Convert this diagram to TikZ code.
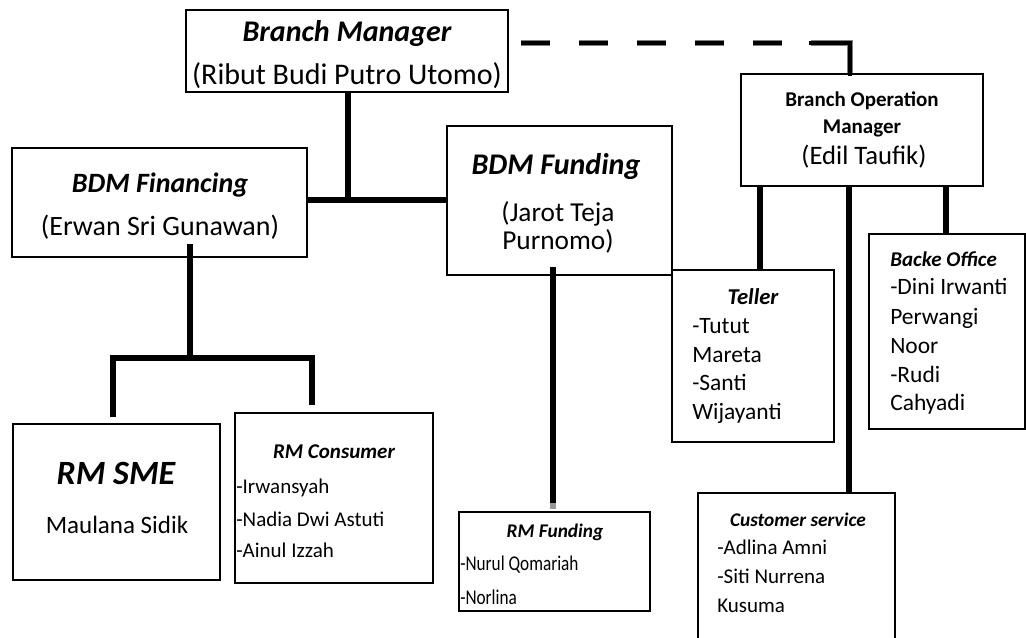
\documentclass[tikz,border=0pt]{standalone}
\usepackage{fontspec}
\setmainfont{Carlito}
\usetikzlibrary{fit,calc}
\newcommand\fsz[1]{\fontsize{#1}{#1}\selectfont}
\tikzset{
  box/.style={draw, line width=1.1pt, inner sep=0pt},
  conn/.style={line width=3.8pt},
  t/.style={inner sep=0pt, anchor=base},
  tl/.style={inner sep=0pt, anchor=base west},
  dashblk/.style={line width=3.6pt, dash pattern=on 21.75pt off 21.75pt},
  dashgry/.style={line width=3.8pt, dash pattern=on 21.75pt off 21.75pt, draw=black!50},
}
\begin{document}
\begin{tikzpicture}[x=0.75pt,y=-0.75pt]
\clip (0,0) rectangle (1026,637);
\fill[white] (0,0) rectangle (1026,637);

% boxes
\node[box, fit={(186,10) (508,92)}] (bm) {};
\node[box, fit={(12,148) (307,257)}] (bdmfin) {};
\node[box, fit={(447,126) (672,275)}] (bdmfund) {};
\node[box, fit={(741,74) (983,186)}] (bom) {};
\node[box, fit={(672,270) (834,442)}] (teller) {};
\node[box, fit={(869,234) (1025,429)}] (bo) {};
\node[box, fit={(698,493) (895,660)}] (cs) {};
\node[box, fit={(13,424) (220,580)}] (sme) {};
\node[box, fit={(235,413) (433,583)}] (cons) {};
\node[box, fit={(459,512) (650,611)}] (rmf) {};

% dashed link with shadow
\coordinate (d0) at (521,43);
\coordinate (d1) at (811,43);
\coordinate (dc) at (850,43);
\begin{scope}[shift={(3,5)}]
\draw[dashgry] (d0) -- (d1);
\draw[line width=3.8pt, black!50] (d1) -- (dc) -- (dc |- bom.north);
\end{scope}
\draw[dashblk] (d0) -- (d1);
\draw[line width=3.6pt, line cap=rect] (d1) -- (dc) -- (dc |- bom.north);

% connectors
\coordinate (j1) at (348,200);
\draw[conn] (bm.south -| j1) -- (j1);
\draw[conn] (bdmfin.east |- j1) -- (bdmfund.west |- j1);
\coordinate (j2) at (190,358);
\coordinate (j2a) at (113,358);
\coordinate (j2b) at (312,358);
\draw[conn] (190,244) -- (j2);
\draw[conn] ($(j2a |- sme.north)+(0,-6)$) -- (j2a) -- (j2b) -- ($(j2b |- cons.north)+(0,-7)$);
\coordinate (j3) at (553,267);
\draw[conn] (j3) -- (553,503);
\draw[conn, black!40] (553,503) -- (553,509);
\draw[conn] (bom.south -| 760,0) -- (teller.north -| 760,0);
\draw[conn] (bom.south -| 849,0) -- (cs.north -| 849,0);
\draw[conn] (bom.south -| 946,0) -- (bo.north -| 946,0);

% texts
\node[t, font=\fsz{22.5}\bfseries\itshape] (bmt) at (347,41) {Branch Manager};
\node[t, font=\fsz{22.5}] (bmn) at (347,84) {(Ribut Budi Putro Utomo)};

\node[t, font=\fsz{21}\bfseries\itshape] (bft) at (160,192) {BDM Financing};
\node[t, font=\fsz{21}] (bfn) at (160,235) {(Erwan Sri Gunawan)};

\node[t, font=\fsz{22.5}\bfseries\itshape] (but) at (556,174) {BDM Funding};
\node[t, font=\fsz{20.5}] (bun1) at (558,221) {(Jarot Teja};
\node[t, font=\fsz{20.5}] (bun2) at (558,249) {Purnomo)};

\node[t, font=\fsz{15.75}\bfseries] (bot1) at (862,106) {Branch Operation};
\node[t, font=\fsz{15.75}\bfseries] (bot2) at (862,133) {Manager};
\node[t, font=\fsz{20}] (bon) at (864,164) {(Edil Taufik)};

\node[t, font=\fsz{17}\bfseries\itshape] (tet) at (753,304) {Teller};
\node[tl, font=\fsz{17.6}] (te1) at (692,333) {-Tutut};
\node[tl, font=\fsz{17.6}] (te2) at (692,362) {Mareta};
\node[tl, font=\fsz{17.6}] (te3) at (692,390) {-Santi};
\node[tl, font=\fsz{17.6}] (te4) at (692,419) {Wijayanti};

\node[tl, font=\fsz{15.75}\bfseries\itshape] (bot) at (890,266) {Backe Office};
\node[tl, font=\fsz{17.6}] (bo1) at (890,294) {-Dini Irwanti};
\node[tl, font=\fsz{17.6}] (bo2) at (890,324) {Perwangi};
\node[tl, font=\fsz{17.6}] (bo3) at (890,353) {Noor};
\node[tl, font=\fsz{17.6}] (bo4) at (890,382) {-Rudi};
\node[tl, font=\fsz{17.6}] (bo5) at (890,410) {Cahyadi};

\node[t, font=\fsz{25.5}\bfseries\itshape] (smet) at (116,484) {RM SME};
\node[t, font=\fsz{18.75}] (smen) at (117,533) {Maulana Sidik};

\node[t, font=\fsz{15.75}\bfseries\itshape] (cont) at (334,458) {RM Consumer};
\node[tl, font=\fsz{15.75}] (con1) at (236,493) {-Irwansyah};
\node[tl, font=\fsz{15.75}] (con2) at (236,526) {-Nadia Dwi Astuti};
\node[tl, font=\fsz{15.75}] (con3) at (236,557) {-Ainul Izzah};

\node[t, font=\fsz{14.5}\bfseries\itshape] (rmft) at (555,537) {RM Funding};
\node[tl, font=\fsz{15.75}] (rmf1) at (460,570) {\scalebox{0.82}[1]{-Nurul Qomariah}};
\node[tl, font=\fsz{15.75}] (rmf2) at (460,604) {\scalebox{0.82}[1]{-Norlina}};

\node[t, font=\fsz{14.5}\bfseries\itshape] (cst) at (798,526) {Customer service};
\node[tl, font=\fsz{15.75}] (cs1) at (717,554) {-Adlina Amni};
\node[tl, font=\fsz{15.75}] (cs2) at (717,583) {-Siti Nurrena};
\node[tl, font=\fsz{15.75}] (cs3) at (717,612) {Kusuma};
\end{tikzpicture}
\end{document}
